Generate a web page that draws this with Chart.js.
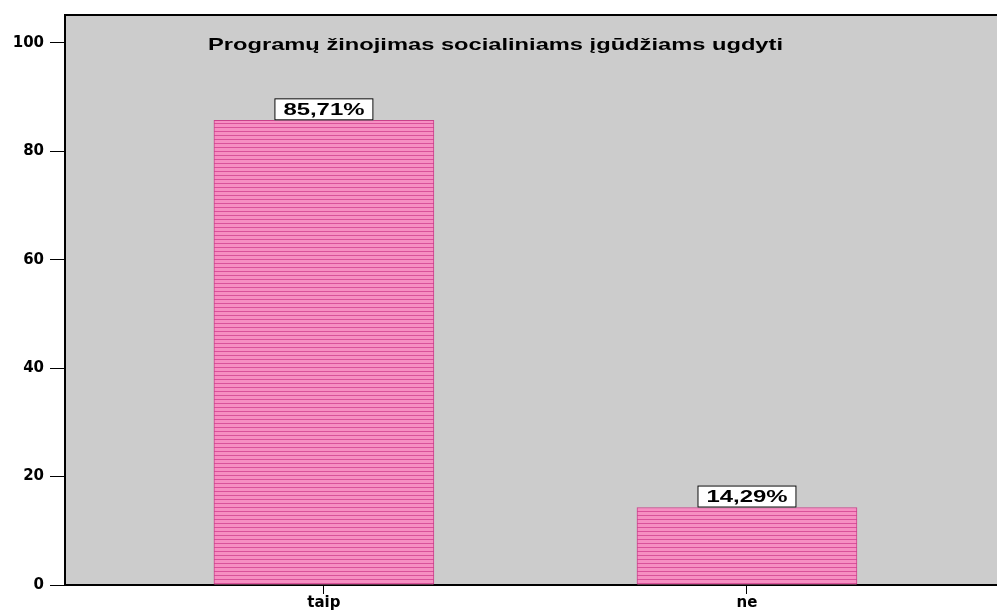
<!DOCTYPE html>
<html>
<head>
<meta charset="utf-8">
<script src="https://cdn.jsdelivr.net/npm/chart.js@4.4.1/dist/chart.umd.min.js"></script>
<style>
  html, body { margin: 0; padding: 0; background: #fff; }
  #wrap { width: 997px; height: 613px; }
</style>
</head>
<body>
<div id="wrap"><canvas id="chart"></canvas></div>
<script>
// duomenys
const categories = ['taip', 'ne'];
const percents = [85.71, 14.29];
const valueLabels = ['85,71%', '14,29%'];
const yTicks = [0, 20, 40, 60, 80, 100];
const chartTitle = 'Programų žinojimas socialiniams įgūdžiams ugdyti';

const FONT = '"DejaVu Sans", "Liberation Sans", Arial, sans-serif';
const WIDE = '"Liberation Sans", Arial, sans-serif';

function stripePattern() {
    const c = document.createElement('canvas');
    c.width = 4; c.height = 4;
    const g = c.getContext('2d');
    g.fillStyle = '#f68fc2';
    g.fillRect(0, 0, 4, 4);
    g.fillStyle = '#d9519a';
    g.fillRect(0, 3, 4, 1);
    return g.createPattern(c, 'repeat');
}

// tekstas ištemptas iki nurodyto pločio
function drawWide(ctx, txt, x, y, width, align) {
    const w = ctx.measureText(txt).width;
    const k = width / w;
    ctx.save();
    ctx.translate(align === 'center' ? x - width / 2 : x, y);
    ctx.scale(k, 1);
    ctx.textAlign = 'left';
    ctx.fillText(txt, 0, 0);
    ctx.restore();
}

// fonas ir rėmelis
const plotBg = {
    id: 'plotBg',
    beforeDraw(chart) {
        const { ctx, chartArea: a } = chart;
        ctx.save();
        ctx.fillStyle = '#cccccc';
        ctx.fillRect(a.left, a.top, a.right - a.left, a.bottom - a.top);
        ctx.strokeStyle = '#000';
        ctx.lineWidth = 2;
        ctx.beginPath();
        ctx.moveTo(a.left, a.bottom);
        ctx.lineTo(a.left, a.top);
        ctx.lineTo(a.right, a.top);
        ctx.stroke();
        ctx.restore();
    }
};

// pavadinimas ir reikšmių etiketės
const labelsPlugin = {
    id: 'labelsPlugin',
    afterDatasetsDraw(chart) {
        const { ctx } = chart;
        ctx.save();
        ctx.font = 'bold 17px ' + WIDE;
        ctx.fillStyle = '#000';
        ctx.textBaseline = 'middle';
        drawWide(ctx, chartTitle, 208, 45, 575, 'left');

        const meta = chart.getDatasetMeta(0);
        meta.data.forEach((bar, i) => {
            const txt = valueLabels[i];
            const w = 99, h = 22;
            const x = bar.x - w / 2;
            const y = bar.y - h;
            ctx.fillStyle = '#fff';
            ctx.fillRect(x, y, w, h);
            ctx.strokeStyle = '#000';
            ctx.lineWidth = 1;
            ctx.strokeRect(x + 0.5, y + 0.5, w - 1, h - 1);
            ctx.fillStyle = '#000';
            ctx.font = 'bold 17px ' + WIDE;
            drawWide(ctx, txt, bar.x, y + h / 2 + 1, 81, 'center');
        });
        ctx.restore();
    }
};

const ctx = document.getElementById('chart').getContext('2d');
new Chart(ctx, {
    type: 'bar',
    data: {
        datasets: [{
            data: categories.map((c, i) => ({ x: i, y: percents[i] })),
            backgroundColor: stripePattern(),
            borderColor: '#c8428a',
            borderWidth: 1,
            borderSkipped: 'bottom',
            barThickness: 220
        }]
    },
    options: {
        responsive: true,
        maintainAspectRatio: false,
        animation: false,
        layout: { padding: { top: 12, right: 0, left: 0, bottom: 0 } },
        plugins: {
            legend: { display: false },
            tooltip: { enabled: false }
        },
        scales: {
            x: {
                type: 'linear',
                offset: false,
                min: -0.612,
                max: 1.591,
                afterFit(scale) { scale.height = 28; },
                afterBuildTicks(scale) {
                    scale.ticks = categories.map((c, i) => ({ value: i }));
                },
                ticks: {
                    callback: (v) => categories[v],
                    color: '#000',
                    font: { family: FONT, size: 15, weight: 'bold' },
                    padding: 0,
                    maxRotation: 0
                },
                grid: { offset: false, drawOnChartArea: false, tickLength: 9, color: '#000', tickWidth: 1 },
                border: { display: true, color: '#000', width: 2 }
            },
            y: {
                min: 0,
                max: 105.14,
                afterFit(scale) { scale.width = 65; },
                afterBuildTicks(scale) {
                    scale.ticks = yTicks.map(v => ({ value: v }));
                },
                ticks: {
                    color: '#000',
                    font: { family: FONT, size: 15, weight: 'bold' },
                    padding: 6
                },
                grid: { drawOnChartArea: false, tickLength: 15, color: '#000', tickWidth: 1 },
                border: { display: true, color: '#000', width: 2 }
            }
        }
    },
    plugins: [plotBg, labelsPlugin]
});
</script>
</body>
</html>
